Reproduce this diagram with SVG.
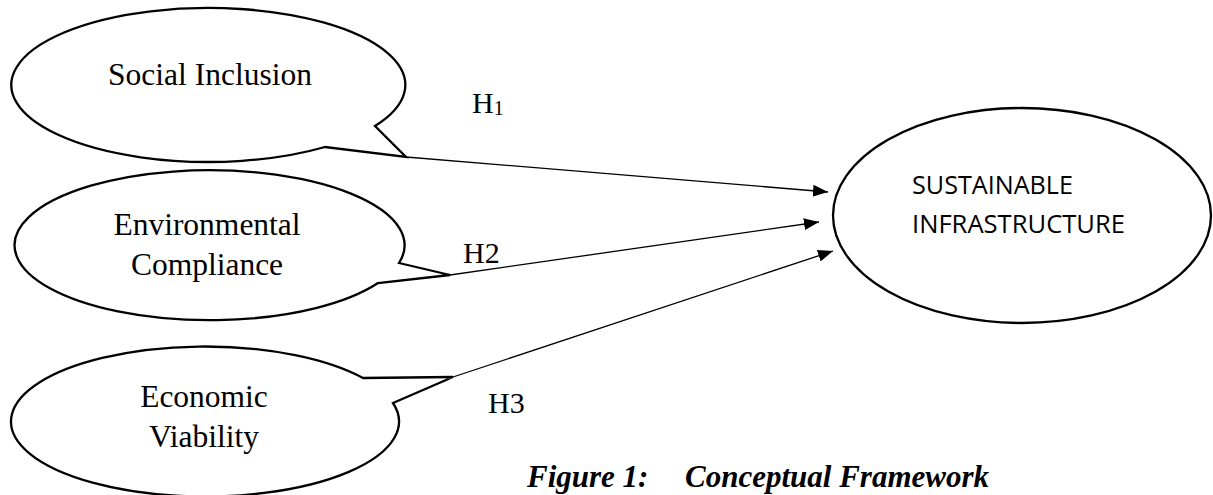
<svg xmlns="http://www.w3.org/2000/svg" width="1213" height="495" viewBox="0 0 1213 495">
<style>
.shape{fill:#fff;stroke:#000;stroke-width:2.3;stroke-linejoin:miter}
.conn{stroke:#000;stroke-width:1.3;fill:none}
.t{font-family:"Liberation Serif","Times New Roman",serif;font-size:31.5px;fill:#000}
.h{font-family:"Liberation Serif","Times New Roman",serif;font-size:30px;fill:#000}
.s{font-family:"Open Sans","Liberation Sans",sans-serif;font-size:25px;fill:#000}
.cap{font-family:"Liberation Serif","Times New Roman",serif;font-size:31px;font-weight:bold;font-style:italic;fill:#000}
</style>
<defs>
<marker id="arr" viewBox="0 0 15 12" refX="15" refY="6" markerWidth="15" markerHeight="12" markerUnits="userSpaceOnUse" orient="auto">
<path d="M0,0 L15,6 L0,12 Z" fill="#000"/>
</marker>
</defs>
<rect width="1213" height="495" fill="#fff"/>
<g id="connectors">
<line class="conn" x1="406" y1="157" x2="828" y2="192" marker-end="url(#arr)"/>
<line class="conn" x1="450" y1="275" x2="819" y2="222" marker-end="url(#arr)"/>
<line class="conn" x1="453" y1="377" x2="833" y2="251" marker-end="url(#arr)"/>
</g>
<g id="social-inclusion">
<path class="shape" d="M375,126 L406,157 L325,147 A197 77 0 1 1 375,126 Z"/>
<text class="t" x="210" y="85" text-anchor="middle">Social Inclusion</text>
</g>
<g id="environmental-compliance">
<path class="shape" d="M399,263 L450,275 L378,283 A195 75 0 1 1 399,263 Z"/>
<text class="t" x="207" y="235" text-anchor="middle">Environmental</text>
<text class="t" x="207" y="275" text-anchor="middle">Compliance</text>
</g>
<g id="economic-viability">
<path class="shape" d="M393,403 L453,377 L363,378 A194 75 0 1 0 393,403 Z"/>
<text class="t" x="204" y="407" text-anchor="middle">Economic</text>
<text class="t" x="204" y="447" text-anchor="middle">Viability</text>
</g>
<g id="sustainable-infrastructure">
<ellipse class="shape" cx="1022" cy="215.5" rx="189" ry="107.5"/>
<text class="s" x="912" y="194" textLength="161" lengthAdjust="spacingAndGlyphs">SUSTAINABLE</text>
<text class="s" x="912" y="233" textLength="213" lengthAdjust="spacingAndGlyphs">INFRASTRUCTURE</text>
</g>
<g id="labels">
<text class="h" x="472" y="113">H<tspan font-size="20" dy="2">1</tspan></text>
<text class="h" x="463" y="263">H2</text>
<text class="h" x="488" y="413">H3</text>
</g>
<g id="caption">
<text class="cap" x="527" y="487">Figure 1:</text>
<text class="cap" x="685" y="487">Conceptual Framework</text>
</g>
</svg>
